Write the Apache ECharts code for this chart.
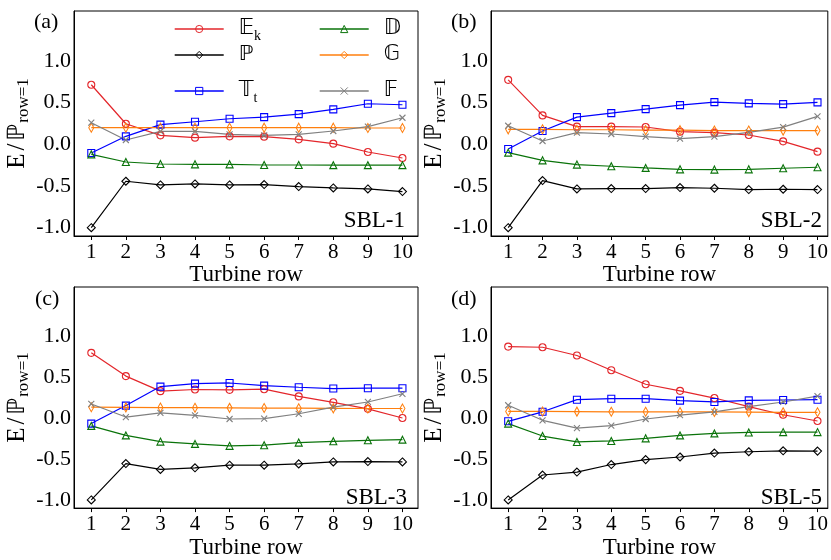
<!DOCTYPE html>
<html>
<head>
<meta charset="utf-8">
<script src="https://cdn.jsdelivr.net/npm/echarts@6/dist/echarts.min.js"></script>
<style>
  html, body { margin: 0; padding: 0; background: #fff; }
  #chart { width: 831px; height: 560px; }
</style>
</head>
<body>
<div id="chart"></div>
<script>
// Turbine rows and axis ticks
const rows = [1, 2, 3, 4, 5, 6, 7, 8, 9, 10];
const yTicks = [-1.0, -0.5, 0.0, 0.5, 1.0];

// Panel names
const panelTags = ['(a)', '(b)', '(c)', '(d)'];
const caseNames = ['SBL-1', 'SBL-2', 'SBL-3', 'SBL-5'];

// SBL-1
const Ek_1 = [0.715, 0.247, 0.108, 0.08, 0.096, 0.092, 0.06, 0.008, -0.092, -0.164];
const P_1  = [-1.0, -0.443, -0.487, -0.475, -0.487, -0.483, -0.507, -0.523, -0.535, -0.567];
const Tt_1 = [-0.104, 0.096, 0.236, 0.271, 0.307, 0.327, 0.363, 0.419, 0.487, 0.475];
const D_1  = [-0.12, -0.212, -0.236, -0.24, -0.24, -0.248, -0.248, -0.25, -0.25, -0.25];
const G_1  = [0.2, 0.2, 0.2, 0.2, 0.2, 0.2, 0.2, 0.2, 0.196, 0.196];
const F_1  = [0.26, 0.052, 0.156, 0.156, 0.12, 0.108, 0.12, 0.16, 0.212, 0.319];

// SBL-2
const Ek_2 = [0.774, 0.347, 0.212, 0.212, 0.208, 0.152, 0.14, 0.112, 0.036, -0.088];
const P_2  = [-1.0, -0.435, -0.535, -0.531, -0.531, -0.519, -0.527, -0.543, -0.539, -0.543];
const Tt_2 = [-0.056, 0.16, 0.327, 0.375, 0.423, 0.471, 0.507, 0.491, 0.483, 0.503];
const D_2  = [-0.1, -0.192, -0.243, -0.263, -0.283, -0.3, -0.303, -0.3, -0.287, -0.275];
const G_2  = [0.18, 0.18, 0.175, 0.175, 0.17, 0.17, 0.165, 0.165, 0.165, 0.165];
const F_2  = [0.223, 0.04, 0.14, 0.124, 0.092, 0.068, 0.092, 0.144, 0.207, 0.335];

// SBL-3
const Ek_3 = [0.796, 0.512, 0.328, 0.348, 0.344, 0.352, 0.264, 0.192, 0.112, 0.0];
const P_3  = [-1.0, -0.556, -0.628, -0.608, -0.576, -0.576, -0.56, -0.536, -0.532, -0.536];
const Tt_3 = [-0.068, 0.152, 0.384, 0.42, 0.428, 0.396, 0.376, 0.36, 0.364, 0.364];
const D_3  = [-0.096, -0.212, -0.288, -0.316, -0.34, -0.332, -0.3, -0.284, -0.272, -0.264];
const G_3  = [0.132, 0.13, 0.128, 0.126, 0.124, 0.122, 0.12, 0.118, 0.116, 0.116];
const F_3  = [0.172, 0.012, 0.064, 0.032, -0.012, -0.008, 0.052, 0.132, 0.196, 0.296];

// SBL-5
const Ek_5 = [0.872, 0.864, 0.764, 0.584, 0.412, 0.332, 0.244, 0.14, 0.04, -0.036];
const P_5  = [-1.0, -0.696, -0.66, -0.568, -0.508, -0.476, -0.428, -0.412, -0.4, -0.404];
const Tt_5 = [-0.04, 0.076, 0.224, 0.236, 0.236, 0.212, 0.196, 0.216, 0.22, 0.224];
const D_5  = [-0.068, -0.22, -0.292, -0.28, -0.248, -0.212, -0.188, -0.176, -0.172, -0.172];
const G_5  = [0.08, 0.08, 0.078, 0.076, 0.076, 0.074, 0.074, 0.072, 0.07, 0.07];
const F_5  = [0.156, -0.028, -0.124, -0.092, -0.012, 0.036, 0.076, 0.14, 0.196, 0.268];

const panels = [
  { Ek: Ek_1, P: P_1, Tt: Tt_1, D: D_1, G: G_1, F: F_1 },
  { Ek: Ek_2, P: P_2, Tt: Tt_2, D: D_2, G: G_2, F: F_2 },
  { Ek: Ek_3, P: P_3, Tt: Tt_3, D: D_3, G: G_3, F: F_3 },
  { Ek: Ek_5, P: P_5, Tt: Tt_5, D: D_5, G: G_5, F: F_5 }
];

const SERIF = "'Liberation Serif', 'DejaVu Serif', serif";
const BB = "'DejaVu Sans', 'DejaVu Serif', sans-serif";

// Series styling: colour, marker, marker size
const styles = {
  Ek: { color: '#e3262b', symbol: 'circle', size: 7 },
  P:  { color: '#000000', symbol: 'diamond', size: 8 },
  Tt: { color: '#0000ff', symbol: 'rect', size: 7 },
  D:  { color: '#0a730a', symbol: 'triangle', size: 7 },
  G:  { color: '#ff7f0e', symbol: 'diamond', size: [5, 9] },
  F:  { color: '#808080', symbol: 'path://M0,0L10,10M10,0L0,10', size: 6 }
};
const keys = ['Ek', 'P', 'Tt', 'D', 'G', 'F'];

// Legend labels with blackboard symbols
const legendText = {
  Ek: '{bb|𝔼}{sub|k}',
  P:  '{bb|ℙ}',
  Tt: '{bb|𝕋}{sub|t}',
  D:  '{bb|𝔻}',
  G:  '{bb|𝔾}',
  F:  '{bb|𝔽}'
};

const grids = [
  { left: 74,  top: 11,  width: 344, height: 225 },
  { left: 491, top: 11,  width: 339, height: 225 },
  { left: 74,  top: 287, width: 344, height: 226 },
  { left: 491, top: 287, width: 339, height: 226 }
];
const xMax = [10.45, 10.3, 10.45, 10.3];

const xAxes = grids.map((g, i) => ({
  type: 'value',
  gridIndex: i,
  min: 0.5,
  max: xMax[i],
  axisLine: { show: true, onZero: false, lineStyle: { color: '#000', width: 1 } },
  axisTick: { show: true, customValues: rows, length: 4, lineStyle: { color: '#000' } },
  axisLabel: {
    customValues: rows, color: '#000', fontSize: 21, fontFamily: SERIF, margin: 6,
    formatter: v => String(v)
  },
  splitLine: { show: false },
  name: 'Turbine row',
  nameLocation: 'middle',
  nameGap: 24,
  nameTextStyle: { color: '#000', fontSize: 23, fontFamily: SERIF }
}));

const yAxes = grids.map((g, i) => ({
  type: 'value',
  gridIndex: i,
  min: -1.1,
  max: 1.6,
  axisLine: { show: true, onZero: false, lineStyle: { color: '#000', width: 1 } },
  axisTick: { show: false },
  axisLabel: {
    customValues: yTicks, color: '#000', fontSize: 22, fontFamily: SERIF, margin: 3,
    formatter: v => v.toFixed(1)
  },
  splitLine: { show: false },
  name: '{n|E}{sl|/}{bb|ℙ}{s|row=1}',
  nameLocation: 'middle',
  nameGap: 38,
  nameTextStyle: {
    color: '#000',
    rich: {
      n:  { fontSize: 25, fontFamily: SERIF, color: '#000', lineHeight: 30 },
      sl: { fontSize: 25, fontFamily: SERIF, color: '#000', lineHeight: 30, padding: [0, 3, 0, 3] },
      bb: { fontSize: 24, fontFamily: BB, color: '#000', lineHeight: 30 },
      s:  { fontSize: 17, fontFamily: SERIF, color: '#000', lineHeight: 17, verticalAlign: 'bottom', padding: [0, 0, 0, 1] }
    }
  }
}));

const series = [];
panels.forEach((p, i) => {
  keys.forEach(k => {
    const st = styles[k];
    series.push({
      type: 'line',
      name: k,
      xAxisIndex: i,
      yAxisIndex: i,
      data: rows.map((r, j) => [r, p[k][j]]),
      symbol: st.symbol,
      symbolSize: st.size,
      showAllSymbol: true,
      lineStyle: { color: st.color, width: 1.2 },
      itemStyle: { color: 'transparent', borderColor: st.color, borderWidth: 1.1 },
      emphasis: { disabled: true },
      animation: false
    });
  });
});

// Legend laid out in two columns and three rows inside panel (a)
const legendPos = {
  Ek: { left: 174, cy: 23 }, P: { left: 174, cy: 49 }, Tt: { left: 174, cy: 85 },
  D:  { left: 319, cy: 23 }, G: { left: 319, cy: 49 }, F:  { left: 319, cy: 85 }
};
const legendItemHeight = 9;
const legends = keys.map(k => ({
  data: [k],
  left: legendPos[k].left,
  top: legendPos[k].cy - legendItemHeight / 2,
  padding: 0,
  itemWidth: 49,
  itemHeight: legendItemHeight,
  selectedMode: false,
  itemStyle: { color: 'transparent', borderWidth: 1 },
  lineStyle: { width: 1.4 },
  formatter: () => legendText[k],
  textStyle: {
    padding: [0, 0, 0, 10],
    rich: {
      bb:  { fontSize: 21, fontFamily: BB, color: '#000', lineHeight: 28 },
      sub: { fontSize: 14, fontFamily: SERIF, color: '#000', lineHeight: 14, verticalAlign: 'bottom' }
    }
  }
}));

const titleStyle = { color: '#000', fontSize: 22, fontFamily: SERIF, fontWeight: 'normal' };
const tagPos = [
  { left: 34, top: 11 }, { left: 451, top: 11 }, { left: 35, top: 288 }, { left: 451, top: 288 }
];
const casePos = [
  { right: 426, top: 209 }, { right: 9, top: 209 }, { right: 424, top: 486 }, { right: 9, top: 486 }
];
const titles = [];
panelTags.forEach((t, i) => titles.push(Object.assign({ text: t, padding: 0, textStyle: titleStyle }, tagPos[i])));
caseNames.forEach((t, i) => titles.push(Object.assign({ text: t, padding: 0, textStyle: Object.assign({}, titleStyle, { fontSize: 23 }) }, casePos[i])));

const chart = echarts.init(document.getElementById('chart'), null, { renderer: 'canvas' });
chart.setOption({
  backgroundColor: '#fff',
  animation: false,
  title: titles,
  legend: legends,
  grid: grids.map(g => Object.assign({ show: true, borderColor: '#000', borderWidth: 1, backgroundColor: 'transparent' }, g)),
  xAxis: xAxes,
  yAxis: yAxes,
  series: series
});
</script>
</body>
</html>
